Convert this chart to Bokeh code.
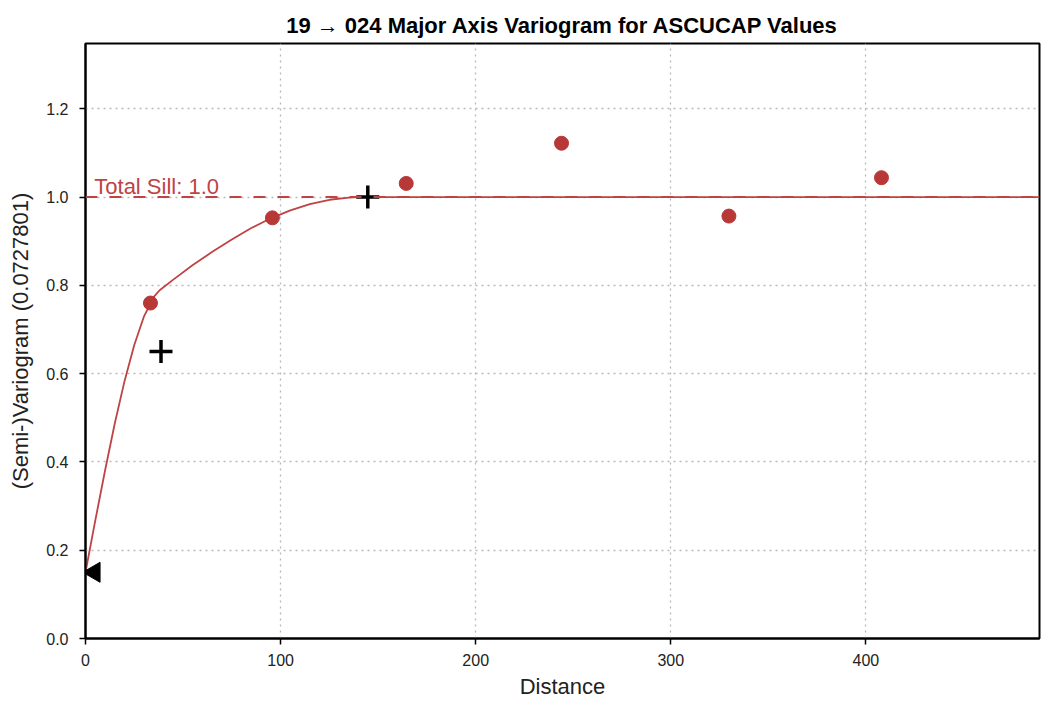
import math
from bokeh.plotting import figure
from bokeh.models import Range1d, FixedTicker, Span, PrintfTickFormatter
from bokeh.core.properties import value
from bokeh.embed import file_html
from bokeh.resources import INLINE

# Experimental variogram points
lag_dist = [33.3, 95.8, 164.4, 244.0, 329.8, 408.0]
lag_gamma = [0.760, 0.953, 1.031, 1.122, 0.957, 1.044]

# Fitted model curve
model_x = [0, 5, 10, 15, 20, 25, 30, 35, 38, 45, 55, 65, 75, 85, 95, 105, 115, 125, 135, 140, 489]
model_y = [0.150, 0.267, 0.380, 0.487, 0.583, 0.665, 0.730, 0.774, 0.789, 0.813, 0.846, 0.876,
           0.904, 0.930, 0.952, 0.970, 0.984, 0.994, 0.999, 1.0, 1.0]

# Range markers (+)
range_x = [38.7, 144.7]
range_y = [0.65, 1.0]

# Nugget marker
nugget_x = [4.5]
nugget_y = [0.15]

sill = 1.0
x_ticks = [0, 100, 200, 300, 400]
y_ticks = [0.0, 0.2, 0.4, 0.6, 0.8, 1.0, 1.2]

FONT = "Liberation Sans"
RED = "#bf4343"
PT_RED = "#b83838"

p = figure(width=1041, height=701, output_backend="svg", toolbar_location=None,
           x_range=Range1d(0, 489), y_range=Range1d(0, 1.348),
           min_border_left=85, min_border_top=43, min_border_bottom=63, min_border_right=2,
           title="19 \u2192 024 Major Axis Variogram for ASCUCAP Values")

p.title.align = "center"
p.title.text_font = FONT
p.title.text_font_size = "22px"
p.title.text_font_style = "bold"
p.title.text_color = "black"
p.title.standoff = 12

p.outline_line_color = "black"
p.outline_line_width = 2
p.outline_line_alpha = 1

for ax in (p.xaxis[0], p.yaxis[0]):
    ax.axis_line_color = "black"
    ax.axis_line_width = 2
    ax.major_tick_line_color = "black"
    ax.major_tick_line_width = 1.5
    ax.major_tick_out = 6
    ax.major_tick_in = 0
    ax.minor_tick_line_color = None
    ax.major_label_text_font = FONT
    ax.major_label_text_font_size = "16px"
    ax.major_label_text_color = "#222222"
    ax.axis_label_text_font = FONT
    ax.axis_label_text_font_size = "22px"
    ax.axis_label_text_font_style = "normal"
    ax.axis_label_text_color = "#222222"

p.xaxis.axis_label = "Distance"
p.yaxis.axis_label = "(Semi-)Variogram (0.0727801)"
p.xaxis.ticker = FixedTicker(ticks=x_ticks)
p.yaxis.ticker = FixedTicker(ticks=y_ticks)
p.yaxis.formatter = PrintfTickFormatter(format="%.1f")
p.xaxis.major_label_standoff = 9
p.xaxis.axis_label_standoff = 5
p.yaxis.major_label_standoff = 11
p.yaxis.axis_label_standoff = 10

p.grid.grid_line_color = "#b8b8b8"
p.grid.grid_line_dash = "2 4"
p.grid.grid_line_width = 1.3

# Sill line
p.add_layout(Span(location=sill, dimension="width", line_color=RED, line_width=2,
                  line_dash="12 12"))
p.text(x=[4.5], y=[1.024], text=["Total Sill: 1.0"], text_color=RED,
       text_font=value(FONT), text_font_size="22px", text_baseline="alphabetic",
       text_align="left")

# Model curve
p.line(model_x, model_y, line_color=RED, line_width=1.8)

# Experimental points
p.scatter(lag_dist, lag_gamma, size=14, marker="circle", fill_color=PT_RED,
          line_color=PT_RED)

# Range markers
p.scatter(range_x, range_y, size=23, marker="cross", line_color="black", line_width=3.5)

# Nugget marker
p.scatter(nugget_x, nugget_y, size=20, marker="triangle", angle=math.pi / 2,
          fill_color="black", line_color="black")

open("out.html", "w").write(file_html(p, INLINE))
